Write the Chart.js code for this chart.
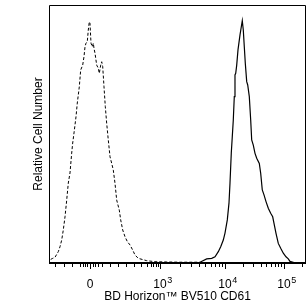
<!DOCTYPE html>
<html>
<head>
<meta charset="utf-8">
<script src="https://cdn.jsdelivr.net/npm/chart.js@4/dist/chart.umd.min.js"></script>
<style>
  html, body { margin: 0; padding: 0; background: #fff; }
  #wrap { width: 308px; height: 306px; }
</style>
</head>
<body>
<div id="wrap"><canvas id="c" width="308" height="306"></canvas></div>
<script>
// Display channel (0-1000 across the biexponential axis) and relative counts (0-100)
const isotypeX = [6.6, 14.4, 23.3, 36.2, 42.8, 49.4, 55.6, 62.3, 68.9, 75.1, 81.7, 88.3, 92.2, 97.3, 105.1, 110.1, 117.9, 123.3, 131.1, 136.2, 140.1, 144.0, 149.0, 152.9, 156.8, 159.5, 163.4, 168.5, 172.4, 175.1, 179.0, 185.6, 191.8, 195.7, 201.2, 205.1, 209.0, 214.0, 219.1, 224.5, 230.7, 237.4, 244.0, 250.2, 256.8, 263.4, 273.5, 279.0, 286.8, 295.7, 304.7, 315.2, 325.7, 334.6, 347.5, 380.2, 412.5, 458.0, 509.7, 587.5];
const isotypeY = [1.4, 1.8, 2.2, 4.4, 6.3, 8.9, 12.8, 17.9, 24.4, 31.0, 34.9, 42.6, 46.5, 50.4, 56.7, 62.0, 68.3, 74.8, 76.7, 80.0, 83.8, 85.2, 85.8, 90.3, 93.5, 92.9, 85.2, 83.8, 85.2, 83.2, 81.3, 76.7, 75.5, 73.5, 76.7, 78.0, 76.1, 68.3, 60.6, 54.1, 47.7, 41.2, 38.6, 36.0, 30.9, 24.4, 20.5, 16.7, 12.8, 10.2, 8.3, 7.0, 5.0, 3.1, 1.8, 0.9, 0.5, 0.4, 0.3, 0.3];

const cd61X = [548.6, 587.5, 613.6, 633.1, 646.0, 658.8, 668.1, 678.2, 684.8, 693.8, 700.4, 704.3, 709.3, 713.2, 717.1, 721.0, 723.7, 726.5, 730.4, 735.4, 743.2, 752.1, 756.0, 759.9, 763.8, 769.3, 773.2, 779.4, 784.8, 788.7, 794.9, 801.6, 808.2, 818.3, 823.7, 829.9, 836.6, 844.4, 853.3, 862.6, 870.4, 875.5, 883.3, 892.2, 901.6, 911.7, 922.2, 931.1, 937.7, 953.3];
const cd61Y = [0.2, 0.3, 1.6, 1.8, 2.4, 4.4, 6.3, 8.9, 11.6, 16.7, 23.3, 31.0, 42.6, 49.0, 55.4, 64.5, 72.9, 73.5, 76.7, 82.6, 88.4, 93.9, 90.3, 83.8, 77.4, 70.3, 69.0, 64.5, 55.4, 47.7, 45.7, 42.5, 40.6, 38.6, 34.8, 28.3, 26.4, 23.8, 21.2, 19.3, 17.9, 15.4, 11.5, 7.6, 5.7, 3.8, 2.4, 1.6, 0.6, 0.2];

// Axis ticks (display channel) and labels
const majorTickValues = [159.5, 431.9, 684.8, 914.4];
const majorTickBase = ['0', '10', '10', '10'];
const majorTickExp = ['', '3', '4', '5'];
const minorTickValues = [23.3, 58.4, 91.4, 120.6, 130.4, 140.1, 149.8, 169.3, 179.0, 190.7, 204.3, 237.4, 268.5, 299.6, 330.7, 358.0, 379.4, 395.0, 406.6, 416.4, 424.1,
  508.2, 552.5, 584.1, 608.6, 628.8, 645.5, 660.3, 673.2,
  754.1, 794.2, 823.0, 845.2, 863.5, 879.0, 892.3, 904.0, 983.7];
const xTitle = 'BD Horizon\u2122 BV510 CD61';
const yTitle = 'Relative Cell Number';

const FONT = '"Liberation Sans", Arial, sans-serif';

const toPts = (xs, ys) => xs.map((x, i) => ({ x: x, y: ys[i] }));

const axesPlugin = {
  id: 'flowAxes',
  afterDraw(chart) {
    const ctx = chart.ctx;
    const a = chart.chartArea;
    const xs = chart.scales.x;
    ctx.save();
    ctx.fillStyle = '#000';
    ctx.strokeStyle = '#000';
    ctx.lineWidth = 1;
    // frame
    ctx.beginPath();
    ctx.moveTo(a.left + 0.5, a.bottom);
    ctx.lineTo(a.left + 0.5, a.top + 0.5);
    ctx.lineTo(a.right - 0.5, a.top + 0.5);
    ctx.lineTo(a.right - 0.5, a.bottom);
    ctx.stroke();
    ctx.fillRect(a.left, a.bottom - 1, a.right - a.left, 2);
    // ticks
    const drawTick = (v, len) => {
      const px = Math.round(xs.getPixelForValue(v)) + 0.5;
      ctx.beginPath();
      ctx.moveTo(px, a.bottom + 1);
      ctx.lineTo(px, a.bottom + 1 + len);
      ctx.stroke();
    };
    minorTickValues.forEach(v => drawTick(v, 3));
    majorTickValues.forEach(v => drawTick(v, 5));
    // tick labels
    ctx.textBaseline = 'alphabetic';
    majorTickValues.forEach((v, i) => {
      const px = xs.getPixelForValue(v);
      ctx.font = '12px ' + FONT;
      ctx.textAlign = 'center';
      ctx.fillText(majorTickBase[i], px, 287.5);
      if (majorTickExp[i]) {
        const w = ctx.measureText(majorTickBase[i]).width;
        ctx.font = '9px ' + FONT;
        ctx.textAlign = 'left';
        ctx.fillText(majorTickExp[i], px + w / 2 + 0.5, 283);
      }
    });
    // axis titles
    ctx.font = '12px ' + FONT;
    ctx.textAlign = 'center';
    ctx.fillText(xTitle, (a.left + a.right) / 2, 300);
    ctx.translate(41.5, (a.top + a.bottom) / 2);
    ctx.rotate(-Math.PI / 2);
    ctx.fillText(yTitle, 0, 0);
    ctx.restore();
  }
};

new Chart(document.getElementById('c'), {
  type: 'line',
  data: {
    datasets: [
      {
        label: 'Isotype control',
        data: toPts(isotypeX, isotypeY),
        borderColor: '#000',
        borderWidth: 1,
        borderDash: [3, 2],
        pointRadius: 0,
        tension: 0,
        fill: false
      },
      {
        label: 'CD61',
        data: toPts(cd61X, cd61Y),
        borderColor: '#000',
        borderWidth: 1.2,
        pointRadius: 0,
        tension: 0,
        fill: false
      }
    ]
  },
  options: {
    responsive: false,
    animation: false,
    devicePixelRatio: 1,
    layout: { padding: { left: 49, top: 5, right: 2, bottom: 43 } },
    plugins: { legend: { display: false }, tooltip: { enabled: false } },
    scales: {
      x: { type: 'linear', min: 0, max: 1000, display: false },
      y: { type: 'linear', min: 0, max: 100, display: false }
    }
  },
  plugins: [axesPlugin]
});
</script>
</body>
</html>
